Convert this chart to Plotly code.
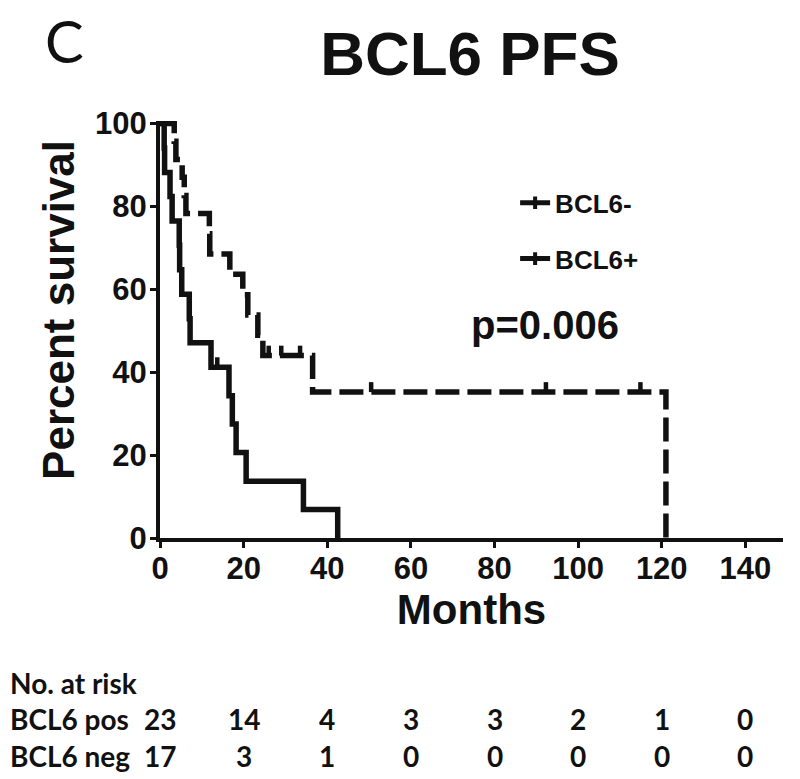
import plotly.graph_objects as go

# ---------------- data ----------------
neg_times = [0, 1.0, 1.1, 2.4, 2.9, 4.6, 4.7, 5.2, 7.0, 7.2, 12.2, 16.5, 17.3, 18.2, 20.6, 34.3, 42.5]
neg_surv = [100, 94.1, 88.2, 82.4, 76.5, 70.6, 64.7, 58.8, 52.9, 47.1, 41.2, 34.3, 27.5, 20.6, 13.7, 6.9, 0]
neg_censor_times = [13.7]

pos_times = [0, 3.4, 3.8, 5.3, 5.8, 6.2, 11.8, 11.9, 16.7, 19.8, 21.0, 23.4, 24.6, 36.5, 121]
pos_surv = [100, 95.7, 91.3, 87.0, 82.6, 78.3, 73.4, 68.5, 63.6, 58.7, 53.8, 48.9, 44.0, 35.2, 0]
pos_censor_times = [26.0, 29.0, 33.5, 50.5, 92.3, 114.9]

risk_times = [0, 20, 40, 60, 80, 100, 120, 140]
risk_pos = [23, 14, 4, 3, 3, 2, 1, 0]
risk_neg = [17, 3, 1, 0, 0, 0, 0, 0]

x_ticks = [0, 20, 40, 60, 80, 100, 120, 140]
y_ticks = [0, 20, 40, 60, 80, 100]


def level_at(times, surv, t):
    lvl = surv[0]
    for ti, si in zip(times, surv):
        if ti <= t:
            lvl = si
    return lvl


BLACK = "#111111"
FONT = "Liberation Sans"
TBL_FONT = "Lato"
LW = 5.5
TICK_UP = 2.4

fig = go.Figure()

# BCL6 negative (solid)
fig.add_trace(go.Scatter(x=neg_times, y=neg_surv, mode="lines", line=dict(color=BLACK, width=LW, shape="hv"),
                         showlegend=False, hoverinfo="skip"))
# BCL6 positive (dashed)
fig.add_trace(go.Scatter(x=pos_times, y=pos_surv, mode="lines",
                         line=dict(color=BLACK, width=LW, shape="hv", dash="24px,8px"),
                         showlegend=False, hoverinfo="skip"))

# censor ticks
for times, surv, ctimes in [(neg_times, neg_surv, neg_censor_times), (pos_times, pos_surv, pos_censor_times)]:
    fig.add_trace(go.Scatter(
        x=ctimes, y=[level_at(times, surv, t) for t in ctimes], mode="markers",
        marker=dict(size=1, color="rgba(0,0,0,0)"),
        error_y=dict(type="data", symmetric=False, array=[TICK_UP] * len(ctimes), arrayminus=[0] * len(ctimes),
                     color=BLACK, thickness=4.5, width=0),
        showlegend=False, hoverinfo="skip"))

# legend entries
for i, name in enumerate(["BCL6-", "BCL6+"]):
    fig.add_trace(go.Scatter(x=[None], y=[None], mode="lines+markers", name=name, legendgroup=name,
                             line=dict(color=BLACK, width=5),
                             marker=dict(symbol="line-ns-open", size=9, line=dict(color=BLACK, width=4))))

# p value
fig.add_annotation(x=92, y=51.5, xref="x", yref="y", text="p=0.006", showarrow=False,
                   xanchor="center", yanchor="middle",
                   font=dict(family=FONT, size=40, color=BLACK, weight="bold"))

# y axis title (placed like the original, slightly above centre)
fig.add_annotation(x=-0.163, y=0.548, xref="paper", yref="paper", text="Percent survival", showarrow=False,
                   textangle=-90, xanchor="center", yanchor="middle",
                   font=dict(family=FONT, size=44, color=BLACK, weight="bold"))

# panel letter
fig.add_annotation(x=-0.1525, y=1.194, xref="paper", yref="paper", text="C", showarrow=False,
                   xanchor="center", yanchor="middle",
                   font=dict(family=TBL_FONT, size=58, color=BLACK))

# risk table
fig.add_annotation(x=-0.244, y=-0.347, xref="paper", yref="paper", text="No. at risk", showarrow=False,
                   xanchor="left", yanchor="middle", font=dict(family=TBL_FONT, size=28, color=BLACK, weight="bold"))
for row_y, lbl, vals in [(-0.434, "BCL6 pos", risk_pos), (-0.523, "BCL6 neg", risk_neg)]:
    fig.add_annotation(x=-0.244, y=row_y, xref="paper", yref="paper", text=lbl, showarrow=False,
                       xanchor="left", yanchor="middle",
                       font=dict(family=TBL_FONT, size=28, color=BLACK, weight="bold"))
    for t, v in zip(risk_times, vals):
        fig.add_annotation(x=t, y=row_y, xref="x", yref="paper", text=str(v), showarrow=False,
                           xanchor="center", yanchor="middle",
                           font=dict(family=TBL_FONT, size=28, color=BLACK, weight="bold"))

fig.update_layout(
    width=800, height=779,
    margin=dict(l=160, r=17, t=121, b=241, autoexpand=False),
    paper_bgcolor="white", plot_bgcolor="white",
    title=dict(text="BCL6 PFS", x=0.5875, xref="container", xanchor="center", y=0.932, yref="container",
               yanchor="middle", font=dict(family=FONT, size=62, color=BLACK, weight="bold")),
    xaxis=dict(range=[0, 149], tickvals=x_ticks, showgrid=False, zeroline=False, showline=True, automargin=False,
               linecolor=BLACK, linewidth=4, ticks="outside", ticklen=6, tickwidth=3, tickcolor=BLACK,
               ticklabelstandoff=-6,
               tickfont=dict(family=FONT, size=31, color=BLACK, weight="bold"),
               title=dict(text="Months", standoff=10, font=dict(family=FONT, size=42, color=BLACK, weight="bold"))),
    yaxis=dict(range=[0, 100.6], tickvals=y_ticks, showgrid=False, zeroline=False, showline=True, automargin=False,
               linecolor=BLACK, linewidth=4, ticks="outside", ticklen=6, tickwidth=3, tickcolor=BLACK,
               ticklabelstandoff=-3,
               tickfont=dict(family=FONT, size=31, color=BLACK, weight="bold")),
    legend=dict(x=0.57, y=0.86, xanchor="left", yanchor="top", bgcolor="rgba(0,0,0,0)",
                font=dict(family=FONT, size=26, color=BLACK, weight="bold"), tracegroupgap=19,
                itemwidth=30),
    showlegend=True,
)

fig.write_html("out.html", post_script="document.body.style.margin='0';",
               config={"displayModeBar": False})
